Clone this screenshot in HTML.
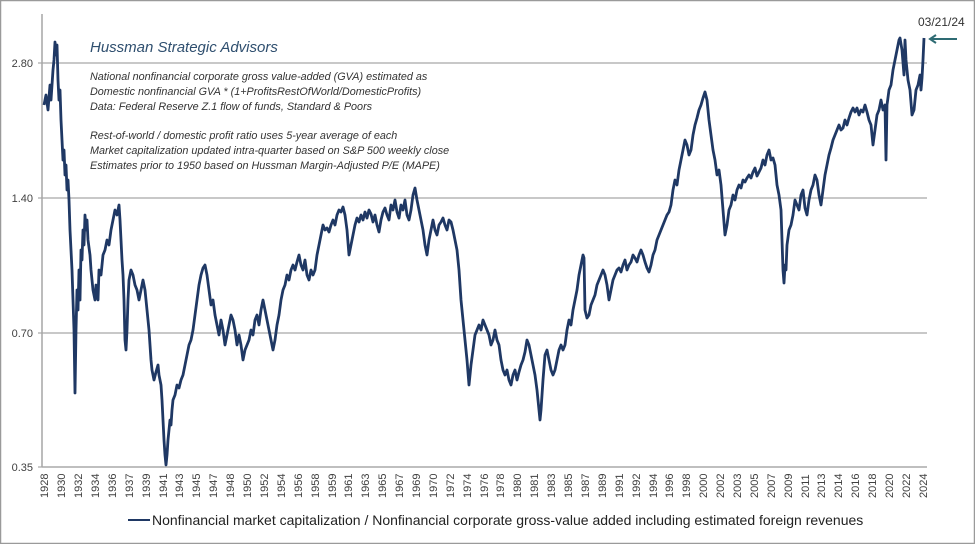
<!DOCTYPE html>
<html><head><meta charset="utf-8"><style>
html,body{margin:0;padding:0;background:#fff;}
body{width:975px;height:544px;overflow:hidden;}
svg{display:block;}
</style></head><body>
<svg width="975" height="544" viewBox="0 0 975 544" xmlns="http://www.w3.org/2000/svg" font-family="Liberation Sans, sans-serif">
<rect x="0.5" y="0.5" width="974" height="543" fill="#fff" stroke="#9a9a9a" stroke-width="1.5"/>
<g stroke="#a6a6a6" stroke-width="1.2">
<line x1="42" y1="63" x2="927" y2="63"/>
<line x1="42" y1="198" x2="927" y2="198"/>
<line x1="42" y1="333" x2="927" y2="333"/>
<line x1="42" y1="467" x2="927" y2="467" stroke="#bfbfbf" stroke-width="2"/>
<line x1="42" y1="14" x2="42" y2="467" stroke-width="1.5"/>
<line x1="38" y1="63" x2="42" y2="63"/><line x1="38" y1="198" x2="42" y2="198"/><line x1="38" y1="333" x2="42" y2="333"/><line x1="38" y1="467" x2="42" y2="467"/>
</g>
<g font-size="11" fill="#404040" text-anchor="end">
<text x="33" y="67">2.80</text><text x="33" y="202">1.40</text><text x="33" y="337">0.70</text><text x="33" y="471">0.35</text>
</g>
<g font-size="11" fill="#404040" transform="translate(0,-12)">
<text transform="translate(48,510) rotate(-90)">1928</text><text transform="translate(65,510) rotate(-90)">1930</text><text transform="translate(82,510) rotate(-90)">1932</text><text transform="translate(99,510) rotate(-90)">1934</text><text transform="translate(116,510) rotate(-90)">1936</text><text transform="translate(133,510) rotate(-90)">1937</text><text transform="translate(150,510) rotate(-90)">1939</text><text transform="translate(167,510) rotate(-90)">1941</text><text transform="translate(183,510) rotate(-90)">1943</text><text transform="translate(200,510) rotate(-90)">1945</text><text transform="translate(217,510) rotate(-90)">1947</text><text transform="translate(234,510) rotate(-90)">1948</text><text transform="translate(251,510) rotate(-90)">1950</text><text transform="translate(268,510) rotate(-90)">1952</text><text transform="translate(285,510) rotate(-90)">1954</text><text transform="translate(302,510) rotate(-90)">1956</text><text transform="translate(319,510) rotate(-90)">1958</text><text transform="translate(336,510) rotate(-90)">1959</text><text transform="translate(352,510) rotate(-90)">1961</text><text transform="translate(369,510) rotate(-90)">1963</text><text transform="translate(386,510) rotate(-90)">1965</text><text transform="translate(403,510) rotate(-90)">1967</text><text transform="translate(420,510) rotate(-90)">1969</text><text transform="translate(437,510) rotate(-90)">1970</text><text transform="translate(454,510) rotate(-90)">1972</text><text transform="translate(471,510) rotate(-90)">1974</text><text transform="translate(488,510) rotate(-90)">1976</text><text transform="translate(504,510) rotate(-90)">1978</text><text transform="translate(521,510) rotate(-90)">1980</text><text transform="translate(538,510) rotate(-90)">1981</text><text transform="translate(555,510) rotate(-90)">1983</text><text transform="translate(572,510) rotate(-90)">1985</text><text transform="translate(589,510) rotate(-90)">1987</text><text transform="translate(606,510) rotate(-90)">1989</text><text transform="translate(623,510) rotate(-90)">1991</text><text transform="translate(640,510) rotate(-90)">1992</text><text transform="translate(657,510) rotate(-90)">1994</text><text transform="translate(673,510) rotate(-90)">1996</text><text transform="translate(690,510) rotate(-90)">1998</text><text transform="translate(707,510) rotate(-90)">2000</text><text transform="translate(724,510) rotate(-90)">2002</text><text transform="translate(741,510) rotate(-90)">2003</text><text transform="translate(758,510) rotate(-90)">2005</text><text transform="translate(775,510) rotate(-90)">2007</text><text transform="translate(792,510) rotate(-90)">2009</text><text transform="translate(809,510) rotate(-90)">2011</text><text transform="translate(825,510) rotate(-90)">2013</text><text transform="translate(842,510) rotate(-90)">2014</text><text transform="translate(859,510) rotate(-90)">2016</text><text transform="translate(876,510) rotate(-90)">2018</text><text transform="translate(893,510) rotate(-90)">2020</text><text transform="translate(910,510) rotate(-90)">2022</text><text transform="translate(927,510) rotate(-90)">2024</text>
</g>
<polyline fill="none" stroke="#1f3864" stroke-width="2.8" stroke-linejoin="round" points="
44,105 46,95 48,110 50,85 51,100 53,70 54,60 55,42 56,55 57,45 58,80 59,100 60,90 61,120 62,140 63,160 64,150 65,175 66,165 67,190 68,180 69,200 70,230 71,250 72,270 73,300 74,330 75,393 76,330 77,290 78,310 79,270 80,300 81,250 82,260 83,230 84,245 85,215 86,230 87,220 88,240 90,255 91,270 93,290 95,300 96,285 98,300 99,270 101,275 103,255 105,250 107,240 109,245 111,230 113,220 115,210 117,215 119,205 120,220 121,240 122,260 123,275 124,300 125,340 126,350 127,330 128,300 129,280 131,270 133,275 135,285 137,290 139,300 141,290 143,280 145,290 147,310 149,330 150,345 151,360 152,370 154,380 156,372 158,365 159,375 160,380 161,385 162,400 163,420 164,440 165,455 166,465 167,455 168,440 169,430 170,420 171,425 172,410 173,400 175,395 177,385 179,388 181,380 183,375 185,365 187,355 189,345 191,340 193,330 195,315 197,300 199,285 201,275 203,268 205,265 207,275 209,290 211,305 213,300 215,315 217,325 219,335 221,320 223,330 225,345 227,335 229,325 231,315 233,320 235,330 237,345 239,335 241,345 243,360 245,350 247,345 249,340 251,330 253,335 255,320 257,315 259,325 261,310 263,300 265,310 267,320 269,330 271,340 273,350 275,340 277,325 279,315 281,300 283,290 285,285 287,275 289,280 291,270 293,265 295,270 297,262 299,255 301,265 303,270 305,260 307,275 309,280 311,270 313,275 315,270 317,255 319,245 321,235 323,225 325,230 327,228 329,232 331,225 333,220 335,225 337,215 339,210 341,212 343,207 345,215 347,230 349,255 351,245 353,235 355,225 357,218 359,222 361,215 363,220 365,212 367,218 369,210 371,214 373,222 375,215 377,225 379,232 381,220 383,212 385,208 387,215 389,220 391,205 393,210 395,200 397,212 399,218 401,205 403,210 405,200 407,215 409,220 411,210 413,195 415,188 417,200 419,210 421,220 423,230 425,245 427,255 429,240 431,230 433,220 435,230 437,235 439,225 441,222 443,218 445,225 447,230 449,220 451,222 453,230 455,240 457,250 459,270 461,300 463,320 465,340 467,360 469,385 471,365 473,350 475,335 477,330 479,325 481,330 483,320 485,325 487,330 489,335 491,345 493,340 495,330 497,340 499,345 501,360 503,370 505,375 507,370 509,380 511,385 513,375 515,370 517,380 519,372 521,365 523,360 525,352 527,340 529,345 531,355 533,365 535,375 537,390 539,410 540,420 541,410 543,380 545,355 547,350 549,360 551,370 553,375 555,370 557,360 559,350 561,345 563,350 565,345 567,330 569,320 571,325 573,310 575,300 577,290 579,275 581,265 583,255 584,258 585,310 587,318 589,315 591,305 593,300 595,295 597,285 599,280 601,275 603,270 605,275 607,285 609,300 611,290 613,280 615,275 617,270 619,268 621,272 623,265 625,260 627,270 629,265 631,262 633,255 635,258 637,262 639,255 641,250 643,255 645,262 647,268 649,272 651,265 653,255 655,250 657,240 659,235 661,230 663,225 665,220 667,215 669,212 671,205 673,190 675,180 677,185 679,170 681,160 683,150 685,140 687,145 689,155 691,150 693,135 695,125 697,118 699,110 701,105 703,98 705,92 707,100 709,120 711,135 713,150 715,160 717,175 719,170 721,185 723,210 725,235 727,225 729,210 731,205 733,195 735,200 737,190 739,185 741,188 743,180 745,182 747,178 749,175 751,178 753,172 755,168 757,176 759,172 761,168 763,160 765,165 767,155 769,150 771,160 773,158 775,165 777,185 779,195 781,210 782,240 783,270 784,283 785,265 786,270 787,245 789,230 791,225 793,215 795,200 797,205 799,210 801,195 803,190 805,208 807,215 809,200 811,190 813,185 815,175 817,180 819,195 821,205 823,190 825,175 827,165 829,155 831,148 833,140 835,135 837,130 839,125 841,130 843,128 845,120 847,125 849,118 851,112 853,108 855,112 857,108 859,115 861,110 863,112 865,105 867,112 869,120 871,125 873,145 875,130 877,115 879,110 881,100 883,110 885,105 886,160 887,105 889,90 891,85 893,70 895,60 897,50 899,40 900,38 902,50 904,75 905,40 906,60 908,80 910,90 912,115 914,110 916,90 918,85 920,75 921,90 922,78 923,60 924,38"/>
<text x="918" y="26" font-size="12" fill="#333">03/21/24</text>
<line x1="932" y1="39" x2="957" y2="39" stroke="#2e6b73" stroke-width="2"/>
<polyline points="936,35 930,39 936,43" fill="none" stroke="#2e6b73" stroke-width="2"/>
<g font-style="italic" fill="#333">
<text x="90" y="52" font-size="15" fill="#2f4f6f">Hussman Strategic Advisors</text>
<g font-size="10.8">
<text x="90" y="80">National nonfinancial corporate gross value-added  (GVA) estimated as</text>
<text x="90" y="95">Domestic nonfinancial GVA * (1+ProfitsRestOfWorld/DomesticProfits)</text>
<text x="90" y="110">Data: Federal Reserve Z.1 flow of funds, Standard &amp; Poors</text>
<text x="90" y="139">Rest-of-world / domestic profit ratio uses 5-year average of each</text>
<text x="90" y="154">Market capitalization updated  intra-quarter based on S&amp;P 500 weekly close</text>
<text x="90" y="169">Estimates prior to 1950 based on Hussman Margin-Adjusted  P/E (MAPE)</text>
</g></g>
<line x1="128" y1="520" x2="150" y2="520" stroke="#1f3864" stroke-width="2"/>
<text x="152" y="525" font-size="14" fill="#222">Nonfinancial market capitalization / Nonfinancial corporate gross-value added including estimated foreign revenues</text>
</svg>
</body></html>
